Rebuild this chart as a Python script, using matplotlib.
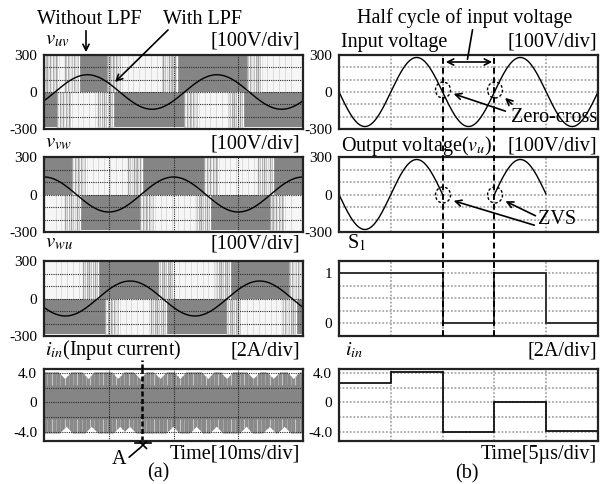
import numpy as np
import matplotlib.pyplot as plt
import matplotlib.transforms as mtransforms
from matplotlib.lines import Line2D
from matplotlib.patches import Ellipse, FancyArrowPatch

plt.rcParams['font.family'] = ['Liberation Serif', 'DejaVu Serif']
plt.rcParams['mathtext.fontset'] = 'stix'

# ---------------- data ----------------
# (a) line-to-line voltages, 50 Hz, 10 ms/div
t_left_max = 40.0                      # ms
lpf_amp = 140.0                        # V, filtered (LPF) waveform amplitude
lpf_period = 20.0                      # ms
lpf_peak_time = [6.7, 0.0, 13.3]       # ms, peak of v_uv, v_vw, v_wu
# intervals (ms) where the unfiltered PWM waveform shows no pulses (white)
white_upper = [
    [(0.5, 5.0), (10.2, 20.2), (31.8, 40.0)],
    [(4.8, 14.8), (25.2, 34.9)],
    [(0.0, 7.9), (18.2, 28.3), (38.3, 40.0)],
]
white_lower = [
    [(2.5, 10.2), (22.1, 30.3)],
    [(0.0, 5.1), (15.3, 25.2), (35.4, 40.0)],
    [(9.9, 18.4), (28.7, 38.5)],
]
pwm_top, pwm_bot = 300, -282           # V
# input current envelope (A) and ripple dips (ms)
iin_env = 4.1
dips_up = [3.2, 6.8, 11.4, 14.8, 17.9, 21.0, 25.3, 28.2, 32.3, 35.4, 38.5]
dips_low = [3.4, 7.3, 11.7, 13.2, 19.9, 23.5, 26.6, 31.2, 34.8, 37.1]
dip_depth, dip_half = 0.9, 1.0
marker_A = 15.2                        # ms

# (b) high-frequency side, 5 us/div
t_right_max = 25.0                     # us
vin_amp = 280.0                        # V
vin_period = 10.0                      # us
s1_edges = [0, 10, 15, 20, 25]         # us
s1_levels = [1, 0, 1, 0]
iin_edges = [0, 5, 10, 15, 20, 25]     # us
iin_levels = [2.6, 4.1, -3.95, 0.0, -3.8]
half_cycle = [10, 15]                  # us, zero-cross instants

# ---------------- layout ----------------
W, H = 604, 484
fig = plt.figure(figsize=(W / 100, H / 100), dpi=100)


def P(x, y):
    return (x / W, 1 - y / H)


def box(x0, x1, y0, y1):
    return [x0 / W, 1 - y1 / H, (x1 - x0) / W, (y1 - y0) / H]


rows = [(55, 129), (157, 232), (261, 336), (369, 441)]
axL = [fig.add_axes(box(44, 303, r[0], r[1])) for r in rows]
axR = [fig.add_axes(box(339, 598, r[0], r[1])) for r in rows]

gray = '#858585'
streak_cols = ['#9c9c9c', '#e6e6e6', '#bdbdbd', '#ffffff', '#a9a9a9', '#d6d6d6', '#f2f2f2']


def style(ax, xlim, ylim, xg, yg, ticks, labels, gc, glw):
    ax.set_xlim(xlim)
    ax.set_ylim(ylim)
    ax.set_xticks([])
    ax.set_yticks(ticks)
    ax.set_yticklabels(labels, fontsize=11)
    ax.tick_params(length=0, pad=5)
    for g in xg:
        ax.axvline(g, color=gc, lw=glw, ls=(0, (1, 1)), zorder=2)
    for g in yg:
        ax.axhline(g, color=gc, lw=glw, ls=(0, (1, 1)), zorder=2)
    for s in ax.spines.values():
        s.set_linewidth(1.6)
        s.set_color('#222222')
        s.set_zorder(5)


def white_block(ax, a, b, y0, y1, edge=1.8):
    ax.fill_between([a, b], y0, y1, color='#f6f6f6', lw=0, zorder=1)
    # streaky transition zones at both ends of the pulse-free interval
    zones = []
    if a > 0:
        zones.append((a - 0.5, a + edge))
    if b < t_left_max:
        zones.append((b - edge, b + 0.5))
    for za, zb in zones:
        xs = np.arange(za, zb, 0.13)
        ax.vlines(xs, y0, y1, colors=[streak_cols[k % 7] for k in range(len(xs))],
                  lw=0.9, zorder=1.2)
    # a few faint streaks inside
    xs = np.arange(a + edge, b - edge, 0.9)
    ax.vlines(xs, y0, y1, colors='#dcdcdc', lw=0.7, zorder=1.1)


tl = np.linspace(0, t_left_max, 1601)
for i in range(3):
    ax = axL[i]
    style(ax, (0, t_left_max), (-300, 300), [10, 20, 30],
          [-200, -100, 0, 100, 200], [300, 0, -300], ['300', '0', '-300'],
          '#2a2a2a', 0.8)
    ax.fill_between([0, t_left_max], 0, pwm_top, color=gray, lw=0, zorder=1)
    ax.fill_between([0, t_left_max], pwm_bot, 0, color=gray, lw=0, zorder=1)
    for a, b in white_upper[i]:
        white_block(ax, a, b, 0, pwm_top)
    for a, b in white_lower[i]:
        white_block(ax, a, b, pwm_bot, 0)
    v = lpf_amp * np.cos(2 * np.pi * (tl - lpf_peak_time[i]) / lpf_period)
    ax.plot(tl, v, color='black', lw=1.0, zorder=3)

# input current, left
ax = axL[3]
style(ax, (0, t_left_max), (-5.2, 4.5), [10, 20, 30], [-4, -2, 0, 2, 4],
      [4, 0, -4], ['4.0', '0', '-4.0'], '#2a2a2a', 0.8)
up = np.full_like(tl, iin_env)
for c in dips_up:
    up = np.minimum(up, iin_env - dip_depth * np.clip(1 - abs(tl - c) / dip_half, 0, 1))
lo = np.full_like(tl, -iin_env)
for c in dips_low:
    lo = np.maximum(lo, -iin_env + dip_depth * np.clip(1 - abs(tl - c) / dip_half, 0, 1))
ax.fill_between(tl, lo, up, color=gray, lw=0, zorder=1)
# light streaks of the switching ripple
iin_cols = ['#8a8a8a', '#a6a6a6', '#909090', '#c4c4c4', '#8c8c8c', '#9a9a9a']
xs = np.arange(0.2, t_left_max, 0.33)
idx = np.clip(np.searchsorted(tl, xs), 0, len(tl) - 1)
cols = [iin_cols[k % 6] for k in range(len(xs))]
ax.vlines(xs, 2.3, up[idx], colors=cols, lw=0.9, zorder=1.1)
ax.vlines(xs, lo[idx], -2.3, colors=cols[::-1], lw=0.9, zorder=1.1)
ax.axvline(marker_A, color='black', lw=1.8, ls=(0, (2, 1)), zorder=4)

# ---------------- right column ----------------
tr = np.linspace(0, t_right_max, 1001)
vin = -vin_amp * np.sin(2 * np.pi * tr / vin_period)
s1 = np.array(s1_levels)[np.clip(np.searchsorted(s1_edges, tr, side='right') - 1, 0, 3)]
vout = np.where(s1 == 1, vin, np.nan)

rg = '#a8a8a8'
style(axR[0], (0, t_right_max), (-300, 300), [5, 10, 15, 20],
      [-200, -100, 0, 100, 200], [300, 0, -300], ['300', '0', '-300'], rg, 1.3)
axR[0].plot(tr, vin, color='black', lw=1.0, zorder=3)
style(axR[1], (0, t_right_max), (-300, 300), [5, 10, 15, 20],
      [-200, -100, 0, 100, 200], [300, 0, -300], ['300', '0', '-300'], rg, 1.3)
axR[1].plot(tr, vout, color='black', lw=1.0, zorder=3)
style(axR[2], (0, t_right_max), (-0.26, 1.24), [5, 10, 15, 20],
      [0, 0.25, 0.5, 0.75, 1.0], [1, 0], ['1', '0'], rg, 1.3)
axR[2].stairs(s1_levels, s1_edges, baseline=None, color='#333333', lw=1.4, zorder=3)
style(axR[3], (0, t_right_max), (-5.2, 4.5), [5, 10, 15, 20], [-4, -2, 0, 2, 4],
      [4, 0, -4], ['4.0', '0', '-4.0'], rg, 1.3)
axR[3].stairs(iin_levels, iin_edges, baseline=None, color='black', lw=1.2, zorder=3)

# dashed zero-cross lines across the first three right panels
tb = mtransforms.blended_transform_factory(axR[0].transData, fig.transFigure)
for x in half_cycle:
    fig.add_artist(Line2D([x, x], [1 - 336 / H, 1 - 55 / H], transform=tb,
                          color='black', lw=1.4, ls=(0, (3, 2)), zorder=6))

# ---------------- texts ----------------
fs = 14.5


def txt(x, y, s, ha='left', size=fs, **kw):
    fig.text(x / W, 1 - y / H, s, ha=ha, va='center', fontsize=size, **kw)


def arrow(x0, y0, x1, y1, style='->'):
    fig.add_artist(FancyArrowPatch(P(x0, y0), P(x1, y1), transform=fig.transFigure,
                                   arrowstyle=style, mutation_scale=11, lw=1.2,
                                   color='black', zorder=7))


txt(37, 19, 'Without LPF')
txt(163, 19, 'With LPF')
arrow(86, 28, 86, 55)
arrow(170, 28, 113, 84)
for y, s in [(40, r'$v_{uv}$'), (143, r'$v_{vw}$'), (243, r'$v_{wu}$')]:
    txt(45, y, s, size=15)
    txt(300, y + 1, '[100V/div]', ha='right')
txt(45, 350, r'$i_{in}$(Input current)')
txt(300, 351, '[2A/div]', ha='right')
txt(300, 454, 'Time[10ms/div]', ha='right')
txt(158, 473, '(a)', ha='center')
txt(119, 460, 'A', ha='center')
arrow(127, 459, 141, 447, style='-')
fig.add_artist(Line2D([135 / W, 151 / W], [1 - 443 / H] * 2, transform=fig.transFigure,
                      color='black', lw=1.2))
fig.add_artist(Line2D([143 / W], [1 - 445 / H], transform=fig.transFigure, marker='x',
                      ms=6, mew=1.2, color='black'))
tbl = mtransforms.blended_transform_factory(axL[3].transData, fig.transFigure)
fig.add_artist(Line2D([marker_A] * 2, [1 - 369 / H, 1 - 360 / H], transform=tbl,
                      color='black', lw=1.8, ls=(0, (2, 1))))

txt(465, 18, 'Half cycle of input voltage', ha='center')
arrow(473, 27, 467, 62, style='-')
arrow(443, 62, 495, 62, style='<->')
txt(341, 42, 'Input voltage')
txt(597, 42, '[100V/div]', ha='right')
txt(341, 146, r'Output voltage($v_u$)')
txt(597, 146, '[100V/div]', ha='right')
for cx, cy in [(443, 90), (495, 90), (443, 195), (495, 195)]:
    fig.add_artist(Ellipse(P(cx, cy), 15 / W, 16 / H, transform=fig.transFigure,
                           fill=False, lw=1.0, ls=(0, (2, 1.5)), zorder=7))
txt(597, 118, 'Zero-cross', ha='right')
arrow(508, 112, 451, 93)
arrow(514, 106, 503, 96)
txt(557, 220, 'ZVS', ha='center')
arrow(537, 226, 451, 200)
arrow(538, 217, 503, 200)
txt(347, 243, r'S$_1$')
txt(345, 350, r'$i_{in}$')
txt(597, 351, '[2A/div]', ha='right')
txt(597, 454, 'Time[5µs/div]', ha='right')
txt(467, 474, '(b)', ha='center')

fig.savefig('out.png', dpi=100)
